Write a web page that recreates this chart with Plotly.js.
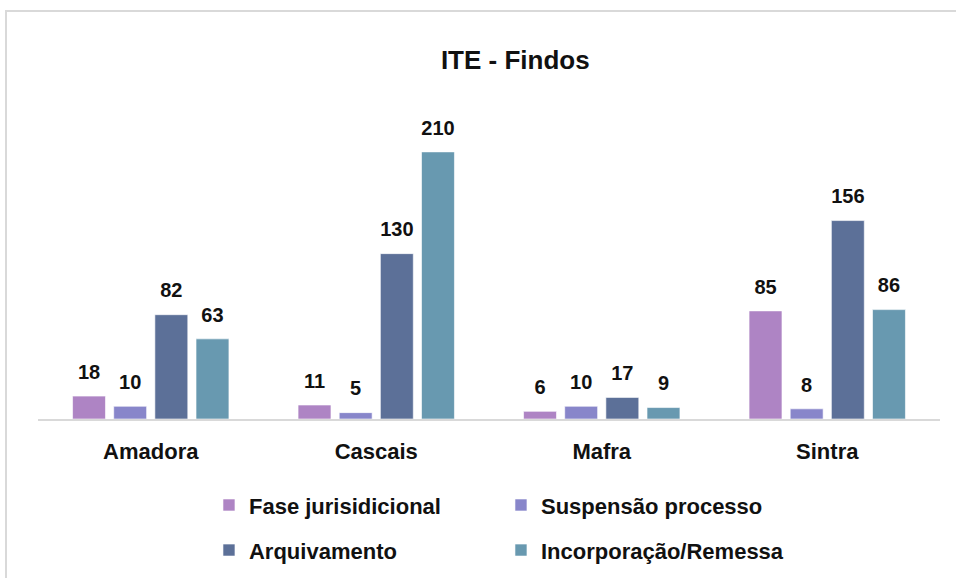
<!DOCTYPE html>
<html>
<head>
<meta charset="utf-8">
<script src="https://cdn.plot.ly/plotly-3.0.1.min.js"></script>
<style>
  html, body { margin: 0; padding: 0; background: #ffffff; }
  #chart { position: absolute; left: 0; top: 0; width: 956px; height: 578px; }
  #frame { position: absolute; left: 5px; top: 10px; width: 951px; height: 568px;
           border-left: 2px solid #d9d9d9; border-top: 2px solid #d9d9d9; pointer-events: none; }
</style>
</head>
<body>
<div id="chart"></div>
<div id="frame"></div>
<script>
const categories = ["Amadora", "Cascais", "Mafra", "Sintra"];
const seriesNames = ["Fase jurisidicional", "Suspensão processo", "Arquivamento", "Incorporação/Remessa"];
const faseJurisidicional = [18, 11, 6, 85];
const suspensaoProcesso = [10, 5, 10, 8];
const arquivamento = [82, 130, 17, 156];
const incorporacaoRemessa = [63, 210, 9, 86];
const colors = ["#AE84C4", "#8886CA", "#5C7098", "#6899B0"];

const FONT = "'Liberation Sans', Arial, sans-serif";
const seriesValues = [faseJurisidicional, suspensaoProcesso, arquivamento, incorporacaoRemessa];

const barTraces = seriesValues.map((vals, i) => ({
  type: "bar",
  name: seriesNames[i],
  x: categories,
  y: vals,
  offsetgroup: String(i),
  marker: { color: colors[i], line: { color: "rgba(255,255,255,0.6)", width: 1 } },
  legend: i < 2 ? "legend" : "legend2"
}));

const labelTraces = seriesValues.map((vals, i) => ({
  type: "scatter",
  mode: "markers+text",
  x: categories,
  y: vals,
  offsetgroup: String(i),
  text: vals.map(String),
  textposition: "top center",
  cliponaxis: false,
  textfont: { family: FONT, size: 20, color: "#111111", weight: "bold" },
  marker: { size: 18, opacity: 0 },
  showlegend: false,
  hoverinfo: "skip"
}));

const layout = {
  width: 956,
  height: 578,
  paper_bgcolor: "#ffffff",
  plot_bgcolor: "#ffffff",
  margin: { l: 38, r: 16, t: 101, b: 159 },
  barmode: "group",
  scattermode: "group",
  bargap: 0.27,
  bargroupgap: 0.2,
  scattergap: 0.27,
  showlegend: true,
  font: { family: FONT, color: "#111111" },
  title: {
    text: "<b>ITE - Findos</b>",
    font: { family: FONT, size: 26, color: "#111111" },
    xref: "container", yref: "container",
    x: 0.539, xanchor: "center",
    y: 0.896, yanchor: "middle"
  },
  xaxis: {
    type: "category",
    showline: true, linecolor: "#d9d9d9", linewidth: 2,
    ticks: "", showgrid: false, zeroline: false,
    tickfont: { family: FONT, size: 22, color: "#111111", weight: "bold" },
    ticklabelstandoff: 12
  },
  yaxis: {
    range: [0, 250],
    visible: false,
    showgrid: false, zeroline: false
  },
  legend: {
    orientation: "h",
    xref: "container", yref: "container",
    x: 0.2186, xanchor: "left",
    y: 0.126, yanchor: "middle",
    entrywidth: 247, entrywidthmode: "pixels",
    font: { family: FONT, size: 22, color: "#111111", weight: "bold" },
    bgcolor: "rgba(0,0,0,0)"
  },
  legend2: {
    orientation: "h",
    xref: "container", yref: "container",
    x: 0.2186, xanchor: "left",
    y: 0.048, yanchor: "middle",
    entrywidth: 247, entrywidthmode: "pixels",
    font: { family: FONT, size: 22, color: "#111111", weight: "bold" },
    bgcolor: "rgba(0,0,0,0)"
  }
};

Plotly.newPlot("chart", barTraces.concat(labelTraces), layout, { displayModeBar: false, staticPlot: true });
</script>
</body>
</html>
